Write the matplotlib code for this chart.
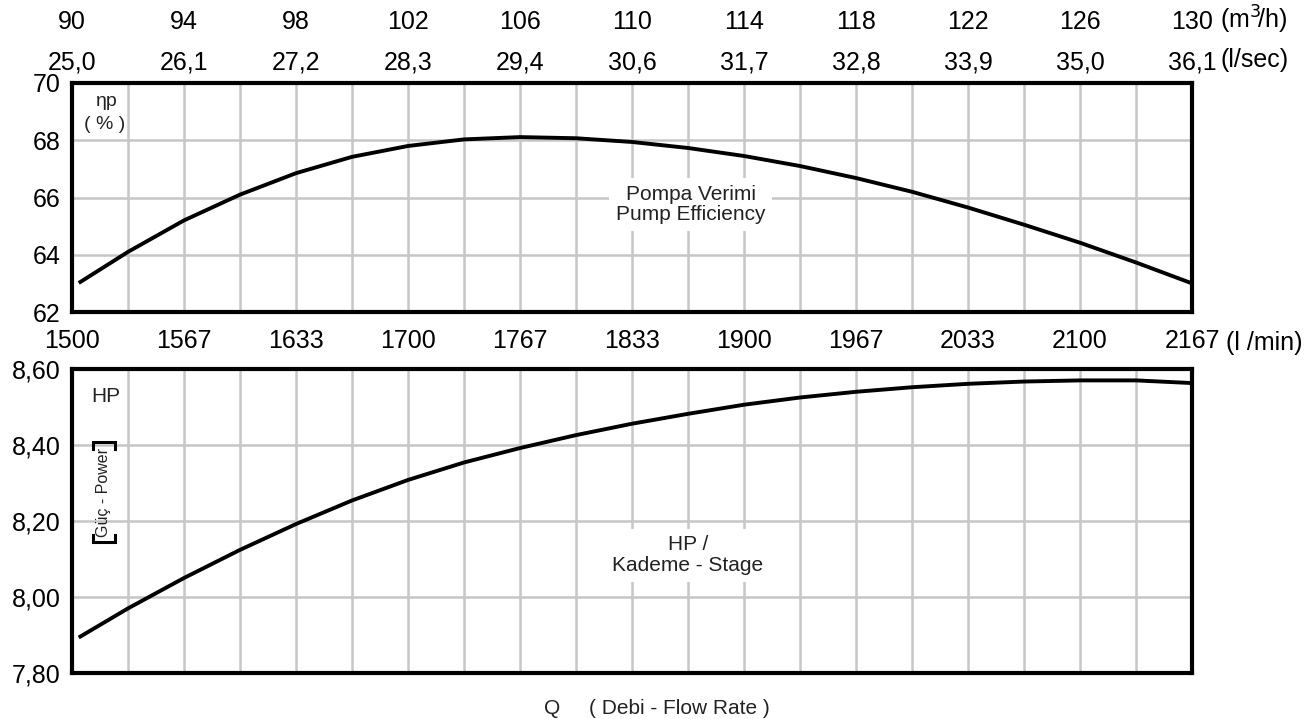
import matplotlib
matplotlib.use('Agg')
import matplotlib.pyplot as plt

plt.rcParams['font.family'] = ['Liberation Sans', 'DejaVu Sans']

# flow axis (m3/h) and the matching labels in other units
q_ticks = [90, 94, 98, 102, 106, 110, 114, 118, 122, 126, 130]
m3h_labels = ['90', '94', '98', '102', '106', '110', '114', '118', '122', '126', '130']
lsec_labels = ['25,0', '26,1', '27,2', '28,3', '29,4', '30,6', '31,7', '32,8', '33,9', '35,0', '36,1']
lmin_labels = ['1500', '1567', '1633', '1700', '1767', '1833', '1900', '1967', '2033', '2100', '2167']
q_grid = [90 + 2 * i for i in range(21)]

# curve readings (m3/h)
q_curve = [90.3, 92, 94, 96, 98, 100, 102, 104, 106, 108, 110, 112, 114, 116, 118, 120, 122, 124, 126, 128, 130]
efficiency = [63.05, 64.1, 65.2, 66.1, 66.85, 67.42, 67.8, 68.03, 68.11, 68.07, 67.94, 67.73,
              67.45, 67.1, 66.68, 66.2, 65.65, 65.05, 64.42, 63.73, 63.0]
power = [7.896, 7.970, 8.050, 8.124, 8.192, 8.254, 8.308, 8.354, 8.392, 8.426, 8.456, 8.482,
         8.506, 8.525, 8.540, 8.552, 8.561, 8.567, 8.570, 8.570, 8.563]

eff_ticks = [62, 64, 66, 68, 70]
eff_labels = ['62', '64', '66', '68', '70']
pow_ticks = [7.8, 8.0, 8.2, 8.4, 8.6]
pow_labels = ['7,80', '8,00', '8,20', '8,40', '8,60']

W, H = 1315, 719
fig = plt.figure(figsize=(W / 100, H / 100), dpi=100)
ax1 = fig.add_axes([72 / W, 1 - 312 / H, 1120 / W, 229 / H])
ax2 = fig.add_axes([72 / W, 1 - 673 / H, 1120 / W, 304 / H])

grid_kw = dict(color='#c6c6c6', lw=1.8, zorder=0)
FS = 18
TXT = '#222222'

for ax, yt, yl in ((ax1, eff_ticks, eff_labels), (ax2, pow_ticks, pow_labels)):
    ax.set_xlim(90, 130)
    ax.set_ylim(yt[0], yt[-1])
    for x in q_grid[1:-1]:
        ax.axvline(x, **grid_kw)
    for y in yt[1:-1]:
        ax.axhline(y, **grid_kw)
    ax.set_yticks(yt)
    ax.set_yticklabels(yl, fontsize=FS)
    ax.tick_params(axis='both', length=0)
    ax.tick_params(axis='y', pad=8)
    for s in ax.spines.values():
        s.set_linewidth(3)
        s.set_color('black')

ax1.set_xticks(q_ticks)
ax1.set_xticklabels(lmin_labels, fontsize=FS)
ax1.tick_params(axis='x', pad=12)
ax2.set_xticks([])

sec1 = ax1.secondary_xaxis('top')
sec1.set_xticks(q_ticks)
sec1.set_xticklabels(lsec_labels, fontsize=FS)
sec1.tick_params(length=0, pad=6.3)
sec1.spines['top'].set_visible(False)

sec2 = ax1.secondary_xaxis('top')
sec2.set_xticks(q_ticks)
sec2.set_xticklabels(m3h_labels, fontsize=FS)
sec2.tick_params(length=0, pad=35)
sec2.spines['top'].set_visible(False)

fig.text(1220 / W, 1 - 20 / H, '(m$^3\!$/h)', fontsize=FS, va='center', ha='left')
fig.text(1220 / W, 1 - 60 / H, '(l/sec)', fontsize=FS, va='center', ha='left')
fig.text(1226 / W, 1 - 343 / H, '(l /min)', fontsize=FS, va='center', ha='left')

ax1.plot(q_curve, efficiency, color='black', lw=2.8, zorder=3, solid_joinstyle='round')
ax2.plot(q_curve, power, color='black', lw=2.8, zorder=3, solid_joinstyle='round')

box = dict(facecolor='white', edgecolor='none', pad=5)
ax1.text(112.1, 65.75, 'Pompa Verimi\nPump Efficiency', fontsize=15, ha='center', va='center',
         color=TXT, bbox=box, zorder=2, linespacing=1.1)
ax2.text(112.0, 8.11, 'HP /\nKademe - Stage', fontsize=15, ha='center', va='center',
         color=TXT, bbox=box, zorder=2, linespacing=1.1)

ax1.text(0.031, 0.918, 'ηp', transform=ax1.transAxes, fontsize=14, ha='center', va='center',
         color=TXT)
ax1.text(0.0295, 0.817, '( % )', transform=ax1.transAxes, fontsize=14, ha='center', va='center',
         color=TXT)
ax2.text(0.030, 0.908, 'HP', transform=ax2.transAxes, fontsize=15, ha='center', va='center',
         color=TXT)
ax2.text(0.0277, 0.595, 'Güç - Power', transform=ax2.transAxes, fontsize=11.5, ha='center',
         va='center', rotation=90, color=TXT)
# square brackets around the rotated power label
bx0, bx1, tick = 0.0190, 0.0385, 0.022
for yb, d in ((0.760, -tick), (0.431, tick)):
    ax2.plot([bx0, bx0, bx1, bx1], [yb + d, yb, yb, yb + d], transform=ax2.transAxes,
             color='black', lw=2.2, clip_on=False, zorder=4, solid_joinstyle='miter')

fig.text(544 / W, 1 - 708 / H, 'Q     ( Debi - Flow Rate )', fontsize=15, ha='left',
         va='center', color=TXT)

fig.savefig('out.png', dpi=100)
